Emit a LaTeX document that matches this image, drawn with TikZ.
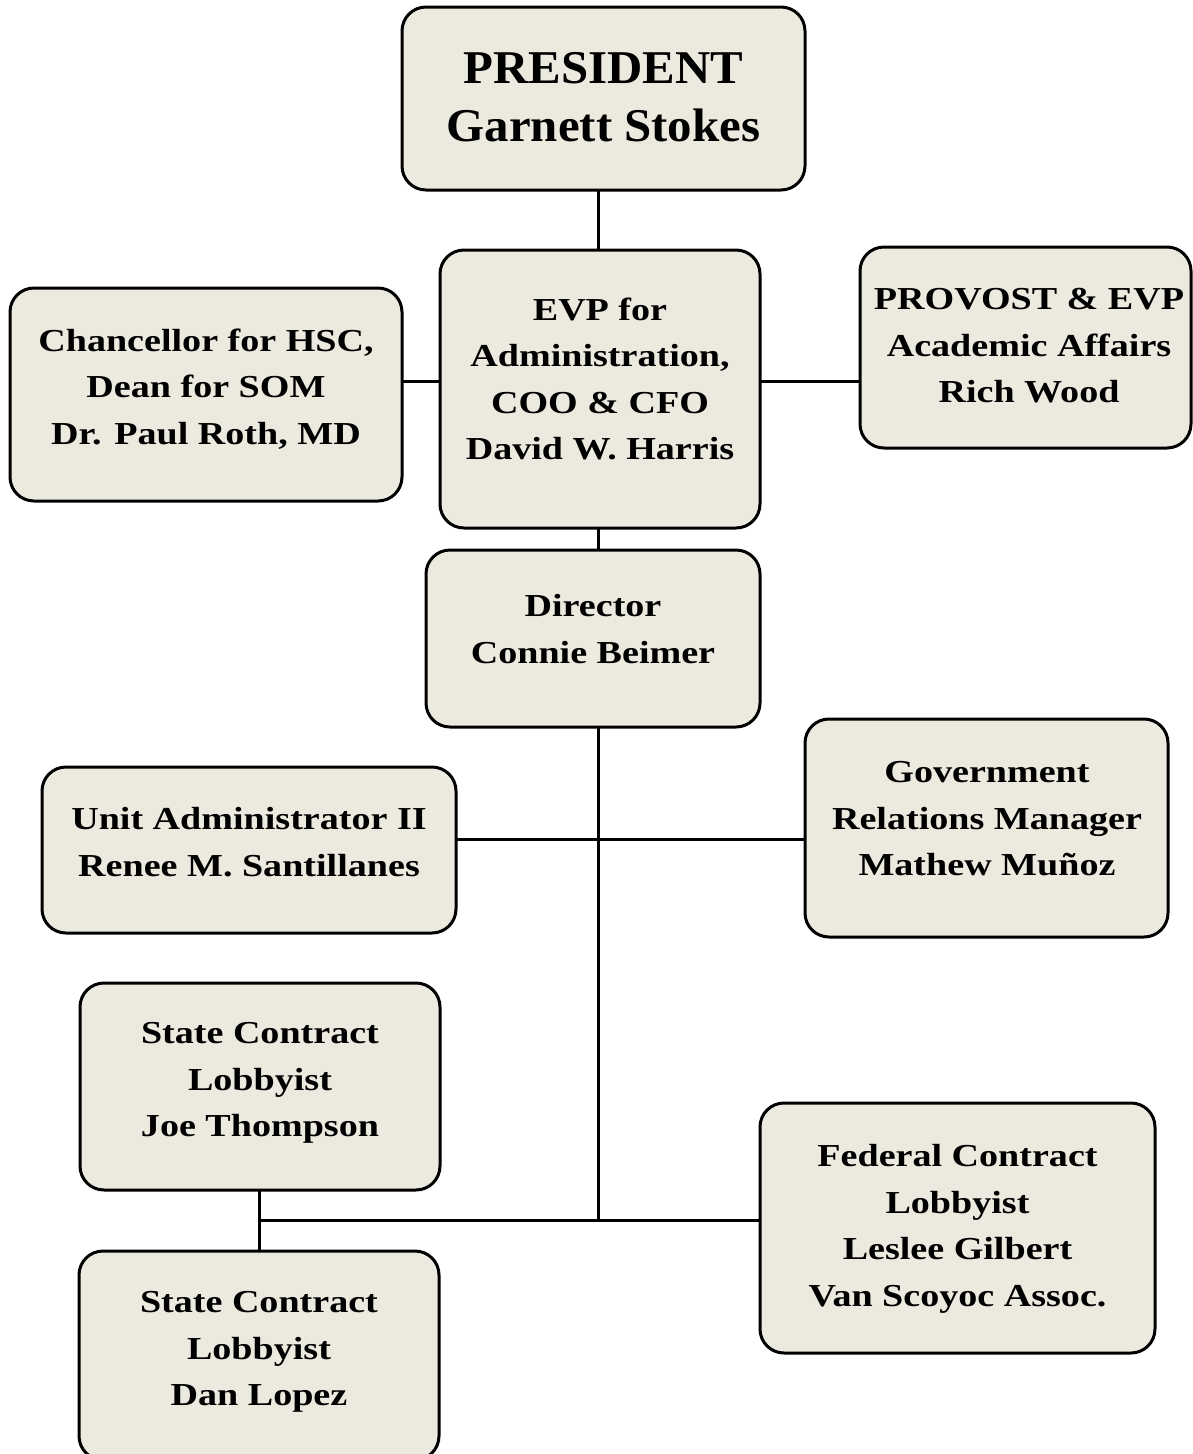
\documentclass[tikz,border=0pt]{standalone}
\usepackage{fontspec}
\setmainfont{Liberation Serif}[FakeStretch=1.19]
\newfontfamily\titlefont{Liberation Serif}[FakeStretch=1.04]
\begin{document}
\begin{tikzpicture}[x=1pt,y=-1pt,
  orgbox/.style={draw=black, line width=3pt, fill=boxfill, rounded corners=24pt, inner sep=0pt},
  orgtext/.style={align=center, font=\bfseries\fontsize{32}{46.5}\selectfont, inner sep=0pt},
  bigtext/.style={align=center, font=\titlefont\bfseries\fontsize{47}{58}\selectfont, inner sep=0pt},
  link/.style={draw=black, line width=3pt}]
\definecolor{boxfill}{HTML}{ECE9DF}
\useasboundingbox (0,0) rectangle (1192,1454);

% boxes, given by their corners
\path[orgbox] (402,7) rectangle (805,190);
\node (pres) at (603.5,98.5) {};
\path[orgbox] (440,250) rectangle (760,528);
\node (evp) at (600,389) {};
\path[orgbox] (10,288) rectangle (402,501);
\node (chan) at (206,394.5) {};
\path[orgbox] (860,247) rectangle (1191,448);
\node (prov) at (1025.5,347.5) {};
\path[orgbox] (426,550) rectangle (760,727);
\node (dir) at (593,638.5) {};
\path[orgbox] (42,767) rectangle (456,933);
\node (unit) at (249,850) {};
\path[orgbox] (805,719) rectangle (1168,937);
\node (gov) at (986.5,828) {};
\path[orgbox] (80,983) rectangle (440,1190);
\node (st1) at (260,1086.5) {};
\path[orgbox] (79,1251) rectangle (439,1460);
\node (st2) at (259,1355) {};
\path[orgbox] (760,1103) rectangle (1155,1353);
\node (fed) at (957.5,1228) {};

% texts
\node[bigtext] (presT) at (603.5,97) {PRESIDENT\\Garnett Stokes};
\node[orgtext] (evpT) at (600,379) {EVP for\\Administration,\\COO \& CFO\\David W. Harris};
\node[orgtext] (chanT) at (206,389) {Chancellor for HSC,\\Dean for SOM\\Dr. Paul Roth, MD};
\node[orgtext] (provT) at (1029,346) {PROVOST \& EVP\\Academic Affairs\\Rich Wood};
\node[orgtext] (dirT) at (593,629) {Director\\Connie Beimer};
\node[orgtext] (unitT) at (249,842) {Unit Administrator II\\Renee M. Santillanes};
\node[orgtext] (govT) at (987,819) {Government\\Relations Manager\\Mathew Muñoz};
\node[orgtext] (st1T) at (260,1083) {State Contract\\Lobbyist\\Joe Thompson};
\node[orgtext] (st2T) at (259,1352) {State Contract\\Lobbyist\\Dan Lopez};
\node[orgtext] (fedT) at (957.5,1229) {Federal Contract\\Lobbyist\\Leslee Gilbert\\Van Scoyoc Assoc.};

% connectors
\coordinate (tee) at (598.5,1220.5);
\coordinate (fork) at (259,1220.5);
\draw[link] (598.5,190) -- (598.5,250);
\draw[link] (402,381) -- (440,381);
\draw[link] (760,381) -- (860,381);
\draw[link] (598.5,528) -- (598.5,550);
\draw[link] (598.5,727) -- (tee);
\draw[link] (456,839.5) -- (805,839.5);
\draw[link] (fork) -- (760,1220.5);
\draw[link] (259,1190) -- (259,1251);
\end{tikzpicture}
\end{document}
